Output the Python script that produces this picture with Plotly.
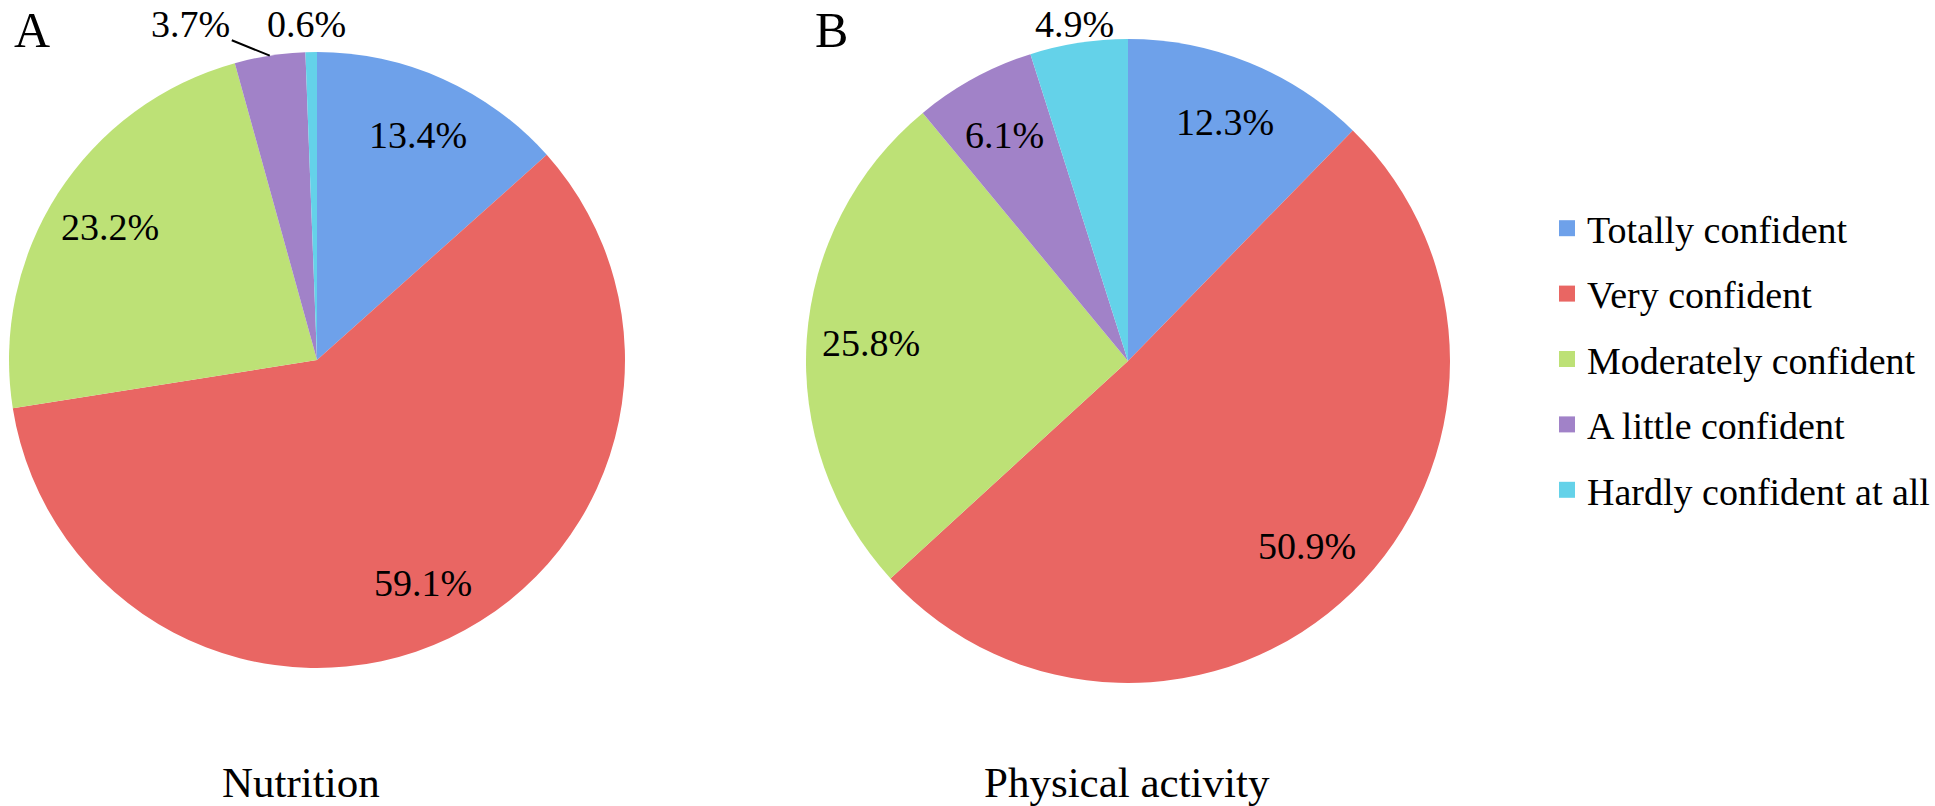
import math
import plotly.graph_objects as go

categories = ["Totally confident", "Very confident", "Moderately confident",
              "A little confident", "Hardly confident at all"]
nutrition = [13.4, 59.1, 23.2, 3.7, 0.6]
physical = [12.3, 50.9, 25.8, 6.1, 4.9]
chart_titles = ["Nutrition", "Physical activity"]
panel_letters = ["A", "B"]

colors = ["#6ea1ea", "#e96663", "#bde176", "#a182c8", "#64d2e9"]
FONT = "Liberation Serif"
W, H = 1935, 806

# pie geometry (pixels): centre x, centre y, radius
pies = [
    dict(values=nutrition, cx=317, cy=360, r=308,
         outside={3: dict(arrow=(-79, -32)), 4: dict(shift=(-5, 28))}),
    dict(values=physical, cx=1128, cy=361, r=322,
         outside={4: dict(shift=(-4, 19))}),
]
INSIDE_F = 0.8
LABEL_SIZE = 38

fig = go.Figure()
for p in pies:
    cx, cy, r = p["cx"], p["cy"], p["r"]
    fig.add_trace(go.Pie(
        labels=categories, values=p["values"], sort=False, direction="clockwise",
        rotation=0, marker=dict(colors=colors, line=dict(width=0)),
        textinfo="none", hoverinfo="label+percent", showlegend=False,
        domain=dict(x=[(cx - r) / W, (cx + r) / W], y=[1 - (cy + r) / H, 1 - (cy - r) / H]),
    ))
    total = sum(p["values"])
    cum = 0.0
    for i, v in enumerate(p["values"]):
        theta = 2 * math.pi * (cum + v / 2) / total
        cum += v
        txt = f"{v:.1f}%"
        if i in p["outside"]:
            o = p["outside"][i]
            ex = cx + r * math.sin(theta)
            ey = cy - r * math.cos(theta)
            if "arrow" in o:
                fig.add_annotation(text=txt, x=ex / W, y=1 - ey / H, xref="paper", yref="paper",
                                   showarrow=True, ax=o["arrow"][0], ay=o["arrow"][1],
                                   arrowhead=0, arrowwidth=2, arrowcolor="black", standoff=0,
                                   font=dict(family=FONT, size=LABEL_SIZE, color="black"))
            else:
                fig.add_annotation(text=txt, x=ex / W, y=1 - ey / H, xref="paper", yref="paper",
                                   showarrow=False, xanchor="center", yanchor="middle",
                                   xshift=o["shift"][0], yshift=o["shift"][1],
                                   font=dict(family=FONT, size=LABEL_SIZE, color="black"))
        else:
            lx = cx + INSIDE_F * r * math.sin(theta)
            ly = cy - INSIDE_F * r * math.cos(theta)
            fig.add_annotation(text=txt, x=lx / W, y=1 - ly / H, xref="paper", yref="paper",
                               showarrow=False, xanchor="center", yanchor="middle",
                               font=dict(family=FONT, size=LABEL_SIZE, color="black"))

# legend entries
for c, col in zip(categories, colors):
    fig.add_trace(go.Scatter(
        x=[None], y=[None], mode="markers", name=c, legendgroup=c,
        marker=dict(symbol="square", size=16, color=col),
    ))

for t, xc in zip(chart_titles, [301, 1127]):
    fig.add_annotation(text=t, x=xc / W, y=1 - 782 / H, xref="paper", yref="paper",
                       xanchor="center", yanchor="middle", showarrow=False,
                       font=dict(family=FONT, size=43, color="black"))
for t, xc in zip(panel_letters, [32, 831]):
    fig.add_annotation(text=t, x=xc / W, y=1 - 30 / H, xref="paper", yref="paper",
                       xanchor="center", yanchor="middle", showarrow=False,
                       font=dict(family=FONT, size=50, color="black"))

fig.update_layout(
    width=W, height=H, margin=dict(l=0, r=0, t=0, b=0, pad=0, autoexpand=False),
    font=dict(family=FONT, color="black"),
    paper_bgcolor="white", plot_bgcolor="white",
    xaxis=dict(visible=False), yaxis=dict(visible=False),
    legend=dict(x=1547 / W, y=1 - 197 / H, xanchor="left", yanchor="top",
                font=dict(family=FONT, size=38, color="black"),
                tracegroupgap=13, itemsizing="trace", bgcolor="rgba(0,0,0,0)"),
    showlegend=True,
)

fig.write_html("out.html", config={"displayModeBar": False},
               post_script="document.body.style.margin='0px';document.body.style.overflow='hidden';")
